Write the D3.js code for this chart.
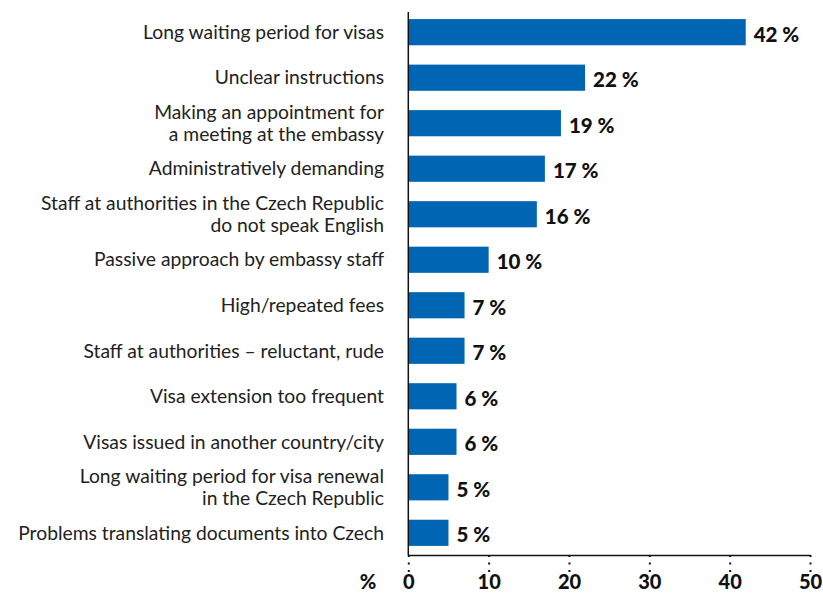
<!DOCTYPE html>
<html><head><meta charset="utf-8">
<script src="https://cdn.jsdelivr.net/npm/d3@7"></script>
<style>body{margin:0;background:#fff}svg{display:block}</style>
</head><body>
<svg id="c" width="823" height="594"></svg>
<script>
const categories = [
  ["Long waiting period for visas"],
  ["Unclear instructions"],
  ["Making an appointment for", "a meeting at the embassy"],
  ["Administratively demanding"],
  ["Staff at authorities in the Czech Republic", "do not speak English"],
  ["Passive approach by embassy staff"],
  ["High/repeated fees"],
  ["Staff at authorities – reluctant, rude"],
  ["Visa extension too frequent"],
  ["Visas issued in another country/city"],
  ["Long waiting period for visa renewal", "in the Czech Republic"],
  ["Problems translating documents into Czech"]
];
const values = [42, 22, 19, 17, 16, 10, 7, 7, 6, 6, 5, 5];
const ticks = [0, 10, 20, 30, 40, 50];

const svg = d3.select("#c");
const x0 = 408.3, x1 = 810, yTop = 10, yBot = 555;
const x = d3.scaleLinear().domain([0, 50]).range([x0, x1]);
const y = d3.scaleBand().domain(d3.range(values.length)).range([yTop, yBot]).paddingInner(0.425).paddingOuter(0.2);
const font = "Lato, 'Open Sans', sans-serif";

svg.selectAll("rect.bar").data(values).join("rect")
  .attr("class", "bar")
  .attr("x", x(0)).attr("y", (d, i) => y(i))
  .attr("width", d => x(d) - x(0)).attr("height", y.bandwidth())
  .attr("fill", "#0066b3");

svg.selectAll("text.val").data(values).join("text")
  .attr("class", "val")
  .attr("x", d => x(d) + 8).attr("y", (d, i) => y(i) + y.bandwidth() / 2 + 2)
  .attr("dy", "0.36em")
  .attr("font-family", font).attr("font-weight", 900).attr("font-size", 20.5)
  .attr("fill", "#111")
  .text(d => d + " %");

const lab = svg.selectAll("text.cat").data(categories).join("text")
  .attr("class", "cat")
  .attr("text-anchor", "end")
  .attr("font-family", font).attr("font-size", 19.3).attr("fill", "#222");
lab.each(function(lines, i) {
  const t = d3.select(this);
  const cy = y(i) + y.bandwidth() / 2;
  const lh = 22;
  lines.forEach((l, k) => {
    t.append("tspan").attr("x", 384)
      .attr("y", cy + (k - (lines.length - 1) / 2) * lh)
      .attr("dy", "0.35em").text(l);
  });
});

// axes
const ax = d3.axisBottom(x).tickValues(ticks).tickSize(0).tickFormat(d => d);
const g = svg.append("g").attr("transform", `translate(0,${yBot})`).call(ax);
g.select(".domain").attr("stroke", "#111").attr("stroke-width", 1.5);
g.selectAll(".tick line").remove();
g.selectAll(".tick").append("line")
  .attr("y1", 0).attr("y2", 18)
  .attr("stroke", "#111").attr("stroke-width", 2).attr("stroke-dasharray", "2,5.5");
g.selectAll(".tick text").attr("y", 34).attr("dy", "0")
  .attr("font-family", font).attr("font-weight", 900).attr("font-size", 20).attr("fill", "#111");

svg.append("line").attr("x1", x0).attr("x2", x0).attr("y1", 12).attr("y2", yBot)
  .attr("stroke", "#111").attr("stroke-width", 1.5);

svg.append("text").attr("x", 368).attr("y", yBot + 34).attr("text-anchor", "middle")
  .attr("font-family", font).attr("font-weight", 900).attr("font-size", 20).attr("fill", "#111")
  .text("%");
</script>
</body></html>
